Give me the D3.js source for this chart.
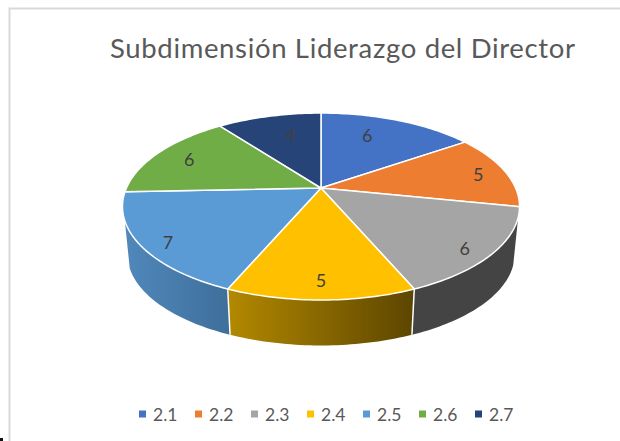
<!DOCTYPE html>
<html>
<head>
<meta charset="utf-8">
<script src="https://cdnjs.cloudflare.com/ajax/libs/d3/7.8.5/d3.min.js"></script>
<style>
html,body{margin:0;padding:0;background:#fff;overflow:hidden}
svg{display:block}
text{font-family:Lato,"Open Sans",sans-serif}
</style>
</head>
<body>
<svg id="c" width="620" height="441"></svg>
<script>
const categories = ["2.1","2.2","2.3","2.4","2.5","2.6","2.7"];
const values = [6,5,6,5,7,6,4];
const titleText = "Subdimensión Liderazgo del Director";
const topColors = ["#4472c4","#ed7d31","#a5a5a5","#ffc000","#5b9bd5","#70ad47","#264478"];
const sideLeft = ["#2f5597","#a5581f","#444444","#b38900","#5088bb","#4d7a31","#1a2f54"];
const sideRight = ["#2f5597","#a5581f","#444444","#5c4500","#3f6f9b","#4d7a31","#1a2f54"];

const svg = d3.select("#c");
const cx = 321, cy = 188;
const a = 194.6, b = 89.8, k = -0.198;
const depth = 48.3, bottomScale = 0.975;
const TAU = Math.PI * 2;
const wallFrom = 108 * Math.PI / 180, wallTo = 250 * Math.PI / 180;

// Perspective projection of a point on the unit disc (angle clockwise from the top)
function project(angle, r, lower) {
  const u = r * Math.sin(angle), v = -r * Math.cos(angle);
  const w = 1 + k * v, s = lower ? bottomScale : 1;
  return [cx + s * a * u / w, cy + (lower ? depth : 0) + s * b * v / w];
}
function arcPoints(start, end, lower) {
  const n = Math.max(2, Math.ceil((end - start) / 0.02));
  return d3.range(n + 1).map(i => project(start + (end - start) * i / n, 1, lower));
}

const arcs = d3.pie().sort(null).startAngle(0).endAngle(TAU).value(d => d)(values);
const line = d3.line();

// frame
svg.append("path").attr("d", "M620,8.5H9.5V441").attr("fill", "none").attr("stroke", "#d9d9d9").attr("stroke-width", 2);
svg.append("rect").attr("x", 0).attr("y", 438).attr("width", 3).attr("height", 3).attr("fill", "#111");

// gradients for the side walls
const defs = svg.append("defs");
arcs.forEach((d, i) => {
  const x0 = project(d.startAngle, 1)[0], x1 = project(d.endAngle, 1)[0];
  const g = defs.append("linearGradient").attr("id", "g" + i).attr("gradientUnits", "userSpaceOnUse")
    .attr("x1", Math.min(x0, x1)).attr("x2", Math.max(x0, x1)).attr("y1", 0).attr("y2", 0);
  g.append("stop").attr("offset", 0).attr("stop-color", sideLeft[i]);
  g.append("stop").attr("offset", 1).attr("stop-color", sideRight[i]);
});

// side walls, clipped to the part of the rim facing the viewer
const front = arcs.map((d, i) => ({
    i, s: Math.max(d.startAngle, wallFrom), e: Math.min(d.endAngle, wallTo)
  })).filter(o => o.e > o.s);
svg.append("g").selectAll("path").data(front).join("path")
  .attr("d", o => line(arcPoints(o.s, o.e, false).concat(arcPoints(o.s, o.e, true).reverse())) + "Z")
  .attr("fill", o => `url(#g${o.i})`);
// white separators between the walls
svg.append("g").selectAll("path").data(front.slice(1)).join("path")
  .attr("d", o => line([project(o.s, 1, false), project(o.s, 1, true)]))
  .attr("stroke", "#fff").attr("stroke-width", 1.5);

// top face
svg.append("g").selectAll("path").data(arcs).join("path")
  .attr("d", d => line([[cx, cy]].concat(arcPoints(d.startAngle, d.endAngle, false))) + "Z")
  .attr("fill", (d, i) => topColors[i])
  .attr("stroke", "#fff").attr("stroke-width", 1.5).attr("stroke-linejoin", "round");

// data labels
const labelR = [0.72, 0.85, 0.88, 0.85, 0.885, 0.80, 0.69];
const labelTurn = [-5.7, 0.5, 3, 0, -2.8, 0, 3.5];
svg.append("g").selectAll("text").data(arcs).join("text")
  .each(function (d, i) {
    const mid = (d.startAngle + d.endAngle) / 2 + labelTurn[i] * Math.PI / 180;
    const p = project(mid, labelR[i], false);
    d3.select(this).attr("x", p[0]).attr("y", p[1]);
  })
  .attr("text-anchor", "middle").attr("dominant-baseline", "central")
  .attr("font-size", 18).attr("fill", "#404040")
  .text(d => d.value);

// title
svg.append("text").attr("x", 110).attr("y", 58)
  .attr("font-size", 27.5).attr("fill", "#595959")
  .attr("textLength", 465).attr("lengthAdjust", "spacing")
  .text(titleText);

// legend
const legendX = d3.scalePoint().domain(categories).range([139, 475]);
const lg = svg.append("g").selectAll("g").data(categories).join("g")
  .attr("transform", d => `translate(${legendX(d)},414)`);
lg.append("rect").attr("x", 0).attr("y", -3.5).attr("width", 7).attr("height", 7)
  .attr("fill", (d, i) => topColors[i]);
lg.append("text").attr("x", 14).attr("y", 0).attr("dominant-baseline", "central")
  .attr("font-size", 17.5).attr("fill", "#595959").text(d => d);
</script>
</body>
</html>
